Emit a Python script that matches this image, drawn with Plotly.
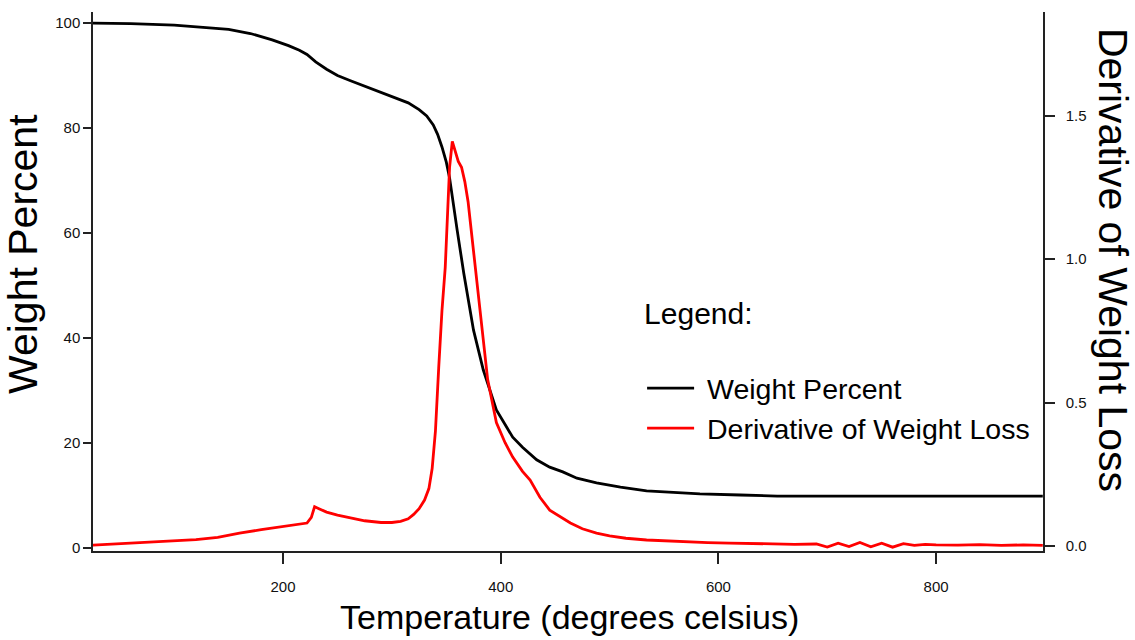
import plotly.graph_objects as go

# ---- data ----
temp_weight = [25, 60, 100, 130, 150, 170, 190, 205, 215, 222, 230, 240, 250, 262, 280,
               300, 315, 325, 332, 338, 342, 346, 350, 353, 356, 360, 366, 375, 384, 396,
               411, 420, 433, 445, 457, 470, 488, 510, 534, 560, 583, 620, 654, 700, 750,
               800, 850, 898]
weight_percent = [100, 99.9, 99.6, 99.2, 98.8, 98.0, 96.8, 95.7, 94.8, 94.0, 92.6, 91.2, 90.0,
                  89.0, 87.6, 86.0, 84.8, 83.5, 82.3, 80.6, 78.8, 76.4, 73.5, 70.5, 66.0, 60.5,
                  52.4, 41.5, 33.9, 26.3, 21.1, 19.2, 16.8, 15.4, 14.5, 13.3, 12.4, 11.6, 10.9,
                  10.6, 10.3, 10.1, 9.9, 9.9, 9.9, 9.9, 9.9, 9.9]

temp_deriv = [25, 40, 60, 80, 100, 120, 140, 160, 180, 200, 210, 218, 222, 226, 229, 233, 240,
              250, 262, 275, 290, 300, 308, 315, 320, 325, 330, 334, 337, 340, 343, 346, 349,
              351, 353, 355.5, 358, 361, 364, 367, 370, 373, 376, 379, 383, 388, 396, 404, 411,
              420, 427, 436, 445, 455, 464, 475, 488, 500, 515, 534, 550, 570, 590, 610, 630,
              650, 670, 690, 700, 710, 720, 730, 740, 750, 760, 770, 780, 790, 800, 820, 840,
              860, 880, 898]
deriv_weight_loss = [0.003, 0.006, 0.010, 0.012, 0.016, 0.022, 0.030, 0.045, 0.057, 0.068, 0.073,
                     0.078, 0.080, 0.100, 0.137, 0.130, 0.118, 0.108, 0.098, 0.088, 0.082, 0.082,
                     0.086, 0.095, 0.110, 0.130, 0.160, 0.200, 0.270, 0.400, 0.620, 0.820, 0.970,
                     1.180, 1.320, 1.410, 1.380, 1.340, 1.320, 1.270, 1.200, 1.100, 1.000, 0.900,
                     0.750, 0.580, 0.430, 0.360, 0.310, 0.260, 0.230, 0.170, 0.125, 0.100, 0.080,
                     0.060, 0.045, 0.035, 0.027, 0.021, 0.018, 0.015, 0.012, 0.010, 0.008, 0.008,
                     0.006, 0.007, -0.004, 0.010, -0.002, 0.012, -0.003, 0.010, -0.004, 0.008,
                     0.002, 0.006, 0.004, 0.003, 0.005, 0.002, 0.004, 0.002]

x_ticks = [200, 400, 600, 800]
y_left_ticks = [0, 20, 40, 60, 80, 100]
y_right_ticks = [0.0, 0.5, 1.0, 1.5]
y_right_labels = ["0.0", "0.5", "1.0", "1.5"]

FONT = "Liberation Sans, Arial, sans-serif"

fig = go.Figure()
fig.add_trace(go.Scatter(x=temp_weight, y=weight_percent, mode="lines",
                         name=" Weight Percent", line=dict(color="#000000", width=2.8),
                         yaxis="y"))
fig.add_trace(go.Scatter(x=temp_deriv, y=deriv_weight_loss, mode="lines",
                         name=" Derivative of Weight Loss", line=dict(color="#ff0000", width=2.8),
                         yaxis="y2"))

axis_common = dict(showgrid=False, zeroline=False, showline=True, linecolor="#222222",
                   linewidth=1.5, ticks="outside", tickcolor="#222222", tickwidth=1.5,
                   tickfont=dict(family=FONT, size=15, color="#111111"))

fig.update_layout(
    width=1135, height=640,
    margin=dict(l=93, r=92, t=12, b=89),
    paper_bgcolor="white", plot_bgcolor="white",
    xaxis=dict(range=[25.4, 898.2], tickvals=x_ticks, ticklen=11, ticklabelstandoff=10,
               **axis_common),
    yaxis=dict(range=[-0.57, 102.1], tickvals=y_left_ticks, ticklen=8, ticklabelstandoff=0,
               **axis_common),
    yaxis2=dict(range=[-0.0174, 1.861], tickvals=y_right_ticks, ticktext=y_right_labels,
                overlaying="y", side="right", ticklen=10, ticklabelstandoff=8, **axis_common),
    legend=dict(title=dict(text="Legend:<br> ", font=dict(family=FONT, size=30, color="#000")),
                font=dict(family=FONT, size=28.5, color="#000"),
                x=0.578, y=0.4935, xanchor="left", yanchor="top",
                bgcolor="rgba(0,0,0,0)", itemwidth=47, tracegroupgap=0),
    showlegend=True,
)

fig.add_annotation(text="Weight Percent", xref="paper", yref="paper", x=-0.0737, y=0.551,
                   xanchor="center", yanchor="middle", textangle=-90, showarrow=False,
                   font=dict(family=FONT, size=41, color="#000"))
fig.add_annotation(text="Derivative of Weight Loss", xref="paper", yref="paper", x=1.0737, y=0.54,
                   xanchor="center", yanchor="middle", textangle=90, showarrow=False,
                   font=dict(family=FONT, size=41, color="#000"))
fig.add_annotation(text="Temperature (degrees celsius)", xref="paper", yref="paper", x=0.502,
                   y=-0.1224, xanchor="center", yanchor="middle", showarrow=False,
                   font=dict(family=FONT, size=34, color="#000"))

fig.write_html("out.html", config={"displayModeBar": False},
               post_script="document.body.style.margin='0';document.body.style.overflow='hidden';")
